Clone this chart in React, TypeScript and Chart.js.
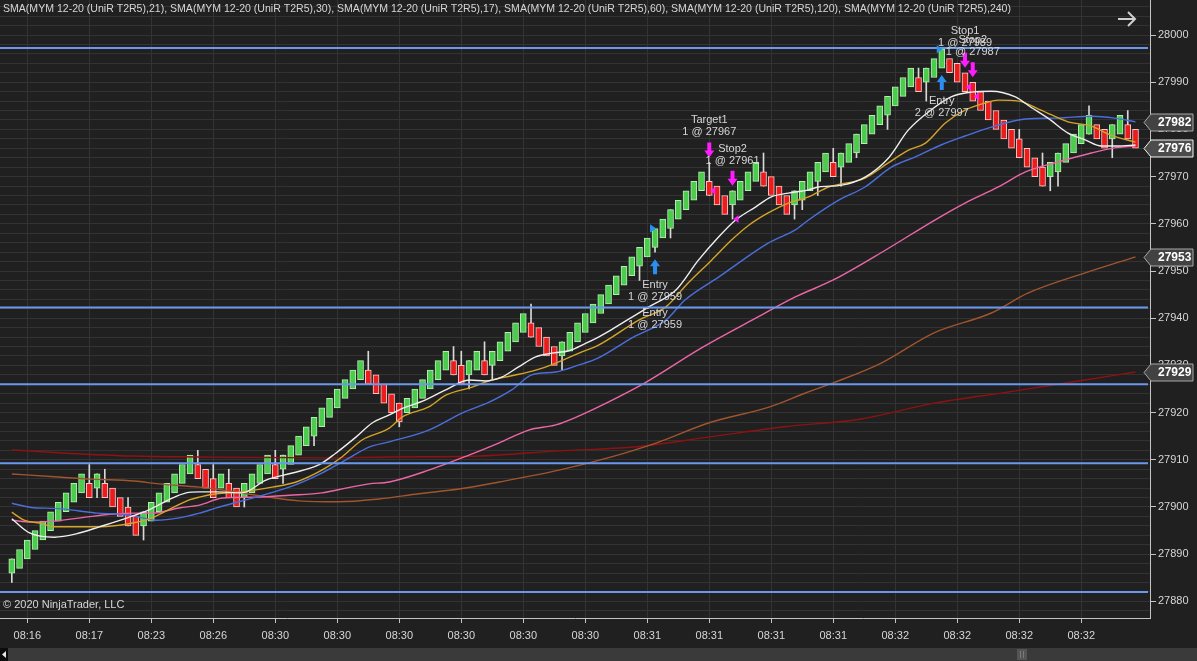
import React, { useEffect, useRef } from "react";
import { Chart, registerables } from "chart.js";

Chart.register(...registerables);

const FONT = '"Liberation Sans", Arial, sans-serif';
const BG = "#202020";
const GRID = "#333333";
const AXIS = "#c4c4c4";
const TEXT = "#d6d6d6";

// ---------- bar data (UniRenko T2R5) ----------
const closes = [
  27889, 27891, 27893, 27895, 27897, 27899, 27901, 27903, 27905, 27907,
  27902, 27907, 27902, 27900, 27898, 27896, 27894, 27899, 27901, 27903,
  27905, 27907, 27909, 27911, 27906, 27904, 27902, 27907, 27902, 27900,
  27905, 27907, 27909, 27911, 27906, 27911, 27913, 27915, 27917, 27919,
  27921, 27923, 27925, 27927, 27929, 27931, 27926, 27924, 27922, 27920,
  27918, 27923, 27925, 27927, 27929, 27931, 27933, 27928, 27926, 27931,
  27933, 27928, 27933, 27935, 27937, 27939, 27941, 27936, 27934, 27932,
  27930, 27935, 27937, 27939, 27941, 27943, 27945, 27947, 27949, 27951,
  27953, 27955, 27957, 27959, 27961, 27963, 27965, 27967, 27969, 27971,
  27966, 27964, 27962, 27967, 27969, 27971, 27973, 27968, 27966, 27964,
  27962, 27967, 27969, 27971, 27973, 27975, 27970, 27975, 27977, 27979,
  27981, 27983, 27985, 27987, 27989, 27991, 27993, 27988, 27993, 27995,
  27997, 27992, 27990, 27988, 27986, 27984, 27982, 27980, 27978, 27976,
  27974, 27972, 27970, 27968, 27973, 27975, 27977, 27979, 27981, 27983,
  27978, 27976, 27981, 27983, 27978, 27976,
];

const opens = [
  27886, 27887, 27889, 27891, 27893, 27895, 27897, 27899, 27901, 27903,
  27905, 27904, 27905, 27904, 27902, 27900, 27898, 27896, 27897, 27899,
  27901, 27903, 27905, 27907, 27909, 27908, 27906, 27904, 27905, 27904,
  27902, 27903, 27905, 27907, 27909, 27908, 27909, 27911, 27913, 27915,
  27917, 27919, 27921, 27923, 27925, 27927, 27929, 27928, 27926, 27924,
  27922, 27920, 27921, 27923, 27925, 27927, 27929, 27931, 27930, 27928,
  27929, 27931, 27930, 27931, 27933, 27935, 27937, 27939, 27938, 27936,
  27934, 27932, 27933, 27935, 27937, 27939, 27941, 27943, 27945, 27947,
  27949, 27951, 27953, 27955, 27957, 27959, 27961, 27963, 27965, 27967,
  27969, 27968, 27966, 27964, 27965, 27967, 27969, 27971, 27970, 27968,
  27966, 27964, 27965, 27967, 27969, 27971, 27973, 27972, 27973, 27975,
  27977, 27979, 27981, 27983, 27985, 27987, 27989, 27991, 27990, 27991,
  27993, 27995, 27994, 27992, 27990, 27988, 27986, 27984, 27982, 27980,
  27978, 27976, 27974, 27972, 27970, 27971, 27973, 27975, 27977, 27979,
  27981, 27980, 27978, 27979, 27981, 27980,
];

// [bar index, price] for bars whose wick goes beyond the body
const wickHighs: [number, number][] = [
  [10, 27909], [12, 27908], [15, 27902], [24, 27912], [26, 27909], [28, 27908],
  [34, 27912], [46, 27933], [57, 27934], [58, 27933], [61, 27935], [67, 27943],
  [90, 27973], [97, 27975], [106, 27976], [117, 27993], [130, 27980], [133, 27975],
  [139, 27985], [144, 27984],
];
const wickLows: [number, number][] = [
  [0, 27884], [11, 27902], [17, 27893], [30, 27900], [35, 27905], [39, 27913],
  [50, 27917], [59, 27925], [62, 27927], [71, 27929], [81, 27948], [83, 27954],
  [85, 27957], [93, 27961], [101, 27961], [102, 27963], [104, 27966], [107, 27968],
  [109, 27974], [113, 27980], [118, 27986], [134, 27967], [135, 27968], [142, 27974],
];

// ---------- time axis ----------
const tickBars = [2, 10, 18, 26, 34, 42, 50, 58, 66, 74, 82, 90, 98, 106, 114, 122, 130, 138];
const timeLabels = [
  "08:16", "08:17", "08:23", "08:26", "08:30", "08:30", "08:30", "08:30", "08:30",
  "08:30", "08:31", "08:31", "08:31", "08:31", "08:32", "08:32", "08:32", "08:32",
];

// ---------- moving averages, read as [bar, value] ----------
const smaPeriods = [21, 30, 17, 60, 120, 240];

const sma17: [number, number][] = [
  [0, 27897.5], [2.3, 27894.5], [5.5, 27893.6], [8.3, 27894.3], [11.3, 27895.8], [14.9, 27897.7],
  [17.7, 27899.4], [20.7, 27901.9], [22.5, 27903.0], [24.2, 27903.2], [26.4, 27903.2], [29.7, 27903.0],
  [32.8, 27905.7], [36.2, 27907.2], [39.6, 27908.9], [41.8, 27911.4], [44.4, 27914.8], [46.5, 27917.8],
  [48.7, 27919.5], [50, 27920.6], [53.4, 27922.7], [56, 27924.8], [59, 27926.9], [61.2, 27926.7],
  [63.2, 27927.5], [65.4, 27929.7], [67.6, 27931.8], [69.7, 27932.6], [71.9, 27933.1], [74.1, 27934.7],
  [75.7, 27936.0], [76.9, 27937.1], [79.6, 27939.8], [82.2, 27942.4], [85.7, 27946.0], [88.6, 27952.3],
  [91.2, 27957.2], [93.4, 27960.8], [96, 27963.6], [98, 27965.7], [100.2, 27966.5], [102.8, 27967.2],
  [104.1, 27967.8], [107.1, 27968.2], [110.1, 27969.9], [113.1, 27973.9], [115.7, 27979.9], [118.6, 27984.1],
  [121.2, 27986.9], [123.8, 27987.9], [126.4, 27988.1], [129.5, 27986.9], [131.5, 27984.7], [133.7, 27982.4],
  [136.3, 27979.2], [138.5, 27977.8], [140.6, 27976.5], [142.7, 27976.5], [145, 27976.7],
];

const sma21: [number, number][] = [
  [0, 27898.9], [1.6, 27897.2], [3.6, 27896.6], [5.5, 27895.8], [7, 27895.8], [11.3, 27895.8],
  [15.6, 27896.6], [18.1, 27897.7], [20.7, 27899.8], [22.9, 27901.5], [24.2, 27902.1], [26.4, 27902.8],
  [29.7, 27903.2], [33.6, 27904.2], [36.7, 27905.3], [40, 27907.8], [42.6, 27910.6], [45.2, 27914.2],
  [48.7, 27916.7], [50.4, 27919.1], [53.8, 27921.2], [56, 27923.7], [59.4, 27925.4], [61.9, 27926.9],
  [64.5, 27927.8], [67.6, 27929.0], [70.2, 27930.5], [73.2, 27932.6], [75.7, 27934.3], [80.9, 27939.6],
  [84.4, 27942.4], [87.3, 27947.5], [90.3, 27952.3], [92.9, 27956.6], [95.1, 27959.7], [97.6, 27962.3],
  [100.2, 27964.4], [102.8, 27965.7], [105.4, 27967.8], [110.1, 27969.7], [113.1, 27972.9], [115.7, 27975.6],
  [117.9, 27977.1], [120.5, 27981.4], [123, 27984.1], [125.6, 27985.6], [127.3, 27986.2], [129.9, 27986.0],
  [132.8, 27984.1], [136.3, 27981.6], [139.3, 27980.7], [141.8, 27978.8], [145, 27977.3],
];

const sma30: [number, number][] = [
  [0, 27900.8], [2.5, 27899.9], [5.5, 27899.7], [8.5, 27899.2], [11, 27898.7], [13.6, 27898.5],
  [15.8, 27898.1], [18.6, 27897.2], [21.6, 27897.7], [24.2, 27898.7], [26.4, 27899.8], [31.5, 27902.1],
  [35.8, 27904.2], [40, 27907.2], [43.1, 27910.0], [46.1, 27912.7], [48.7, 27913.8], [53.8, 27916.3],
  [58.1, 27919.9], [61.6, 27922.2], [64.5, 27924.8], [67.1, 27928.0], [70.2, 27928.6], [73.2, 27930.1],
  [75.7, 27931.6], [80.2, 27936.0], [84.4, 27939.6], [86.9, 27943.9], [91.2, 27948.7], [97.6, 27955.9],
  [101.1, 27958.7], [102.8, 27960.8], [106.7, 27965.0], [110.1, 27967.8], [113.5, 27972.0], [116.6, 27974.2],
  [119.9, 27976.7], [123, 27978.6], [126.4, 27980.5], [130.8, 27982.2], [135, 27982.4], [139.3, 27982.8],
  [142.3, 27982.4], [145, 27981.6],
];

const sma60: [number, number][] = [
  [0, 27897.2], [2.5, 27896.8], [5.5, 27897.0], [9.8, 27897.9], [13.2, 27898.5], [15.8, 27898.7],
  [18.1, 27898.7], [21.6, 27899.8], [24.2, 27900.4], [27.2, 27901.9], [31.5, 27902.1], [35.8, 27902.5],
  [40, 27903.0], [43.1, 27904.0], [46.1, 27904.9], [48.7, 27905.3], [53.8, 27907.8], [59, 27911.0],
  [62.9, 27913.6], [66.7, 27916.3], [70.2, 27917.4], [73.2, 27919.3], [75.7, 27921.2], [81.7, 27926.3],
  [89, 27933.7], [96, 27940.0], [101.1, 27944.5], [106, 27948.1], [112.7, 27954.4], [119.1, 27960.8],
  [123, 27964.4], [127.3, 27967.8], [130.8, 27971.0], [135, 27973.1], [139.3, 27975.0], [142.3, 27976.1],
  [145, 27976.5],
];

const sma120: [number, number][] = [
  [0, 27907.0], [5.5, 27906.4], [10.3, 27905.9], [15.8, 27905.5], [19, 27904.9], [24.2, 27904.2],
  [27.2, 27903.6], [31.5, 27902.5], [37.1, 27901.3], [42.2, 27901.1], [47.4, 27901.7], [52.5, 27902.8],
  [57.7, 27903.8], [62.9, 27905.3], [70.6, 27907.8], [76.9, 27910.4], [83.2, 27913.6], [89.9, 27917.8],
  [97.8, 27921.2], [102.5, 27924.2], [106, 27926.3], [112.2, 27930.5], [119, 27936.9], [126.4, 27941.1],
  [131.1, 27945.3], [138.5, 27949.6], [145, 27953.0],
];

const sma240: [number, number][] = [
  [0, 27912.1], [7.1, 27911.4], [15.6, 27910.8], [24.2, 27910.6], [40, 27910.4], [48.7, 27910.6],
  [60.3, 27910.8], [70.6, 27911.9], [80.2, 27912.7], [89.9, 27914.8], [99.7, 27917.0], [109.4, 27918.6],
  [119, 27922.0], [128.7, 27924.4], [138.5, 27926.9], [145, 27928.6],
];

// ---------- horizontal price levels ----------
const levels = [27997.25, 27942.25, 27926, 27909.25, 27882];

// ---------- executions ----------
const execBars = [83, 83, 90, 93, 120, 123, 124];
const execPrices = [27959, 27959, 27967, 27961, 27997, 27989, 27987];
const execQty = [1, 1, 1, 1, 2, 1, 1];
const execNames = ["Entry", "Entry", "Target1", "Stop2", "Entry", "Stop1", "Stop2"];
const execSides = ["buy", "buy", "sell", "sell", "buy", "sell", "sell"];

// ---------- scale window ----------
const Y_MIN = 27876.48;
const Y_MAX = 28007.42;
const X_MIN = -1.523;
const X_MAX = 146.87;
const yGridValues: number[] = [];
for (let v = 27878; v <= 28006; v += 2) yGridValues.push(v);

const highOf = (i: number) => {
  const w = wickHighs.find((p) => p[0] === i);
  return w ? w[1] : Math.max(opens[i], closes[i]);
};
const lowOf = (i: number) => {
  const w = wickLows.find((p) => p[0] === i);
  return w ? w[1] : Math.min(opens[i], closes[i]);
};

const lineDefs = [
  { data: sma17, color: "#eeeeee" },
  { data: sma21, color: "#d4a42a" },
  { data: sma30, color: "#4a6fdc" },
  { data: sma60, color: "#ec66a8" },
  { data: sma120, color: "#a0552e" },
  { data: sma240, color: "#8e1212" },
];

function upArrow(ctx: CanvasRenderingContext2D, x: number, tip: number) {
  ctx.beginPath();
  ctx.moveTo(x, tip);
  ctx.lineTo(x + 5, tip + 7);
  ctx.lineTo(x + 2, tip + 7);
  ctx.lineTo(x + 2, tip + 15);
  ctx.lineTo(x - 2, tip + 15);
  ctx.lineTo(x - 2, tip + 7);
  ctx.lineTo(x - 5, tip + 7);
  ctx.closePath();
  ctx.fill();
}
function downArrow(ctx: CanvasRenderingContext2D, x: number, tip: number) {
  ctx.beginPath();
  ctx.moveTo(x, tip);
  ctx.lineTo(x + 5, tip - 7);
  ctx.lineTo(x + 2, tip - 7);
  ctx.lineTo(x + 2, tip - 15);
  ctx.lineTo(x - 2, tip - 15);
  ctx.lineTo(x - 2, tip - 7);
  ctx.lineTo(x - 5, tip - 7);
  ctx.closePath();
  ctx.fill();
}

const bgPlugin = {
  id: "ntBg",
  beforeDraw(chart: any) {
    const { ctx, width, height } = chart;
    ctx.save();
    ctx.fillStyle = BG;
    ctx.fillRect(0, 0, width, height);
    ctx.restore();
  },
};

const overlayPlugin = {
  id: "ntOverlay",
  afterDatasetsDraw(chart: any) {
    const { ctx, chartArea } = chart;
    const xs = chart.scales.x;
    const ys = chart.scales.y;
    ctx.save();
    ctx.beginPath();
    ctx.rect(chartArea.left, chartArea.top, chartArea.right - chartArea.left, chartArea.bottom - chartArea.top);
    ctx.clip();

    // horizontal levels
    ctx.strokeStyle = "#6a98ee";
    ctx.lineWidth = 2;
    levels.forEach((lv) => {
      const y = ys.getPixelForValue(lv);
      ctx.beginPath();
      ctx.moveTo(chartArea.left, y);
      ctx.lineTo(chartArea.right - 2, y);
      ctx.stroke();
    });

    // executions
    ctx.font = `11px ${FONT}`;
    ctx.textAlign = "center";
    ctx.textBaseline = "middle";
    const stack: Record<number, number> = {};
    execBars.forEach((b, k) => {
      const bx = xs.getPixelForValue(b);
      const py = ys.getPixelForValue(execPrices[k]);
      const n = stack[b] ?? 0;
      stack[b] = n + 1;
      const buy = execSides[k] === "buy";
      const col = buy ? "#2a8ff0" : "#ff1cff";
      ctx.fillStyle = col;
      // small fill marker
      ctx.beginPath();
      if (buy) {
        ctx.moveTo(bx + 1, py);
        ctx.lineTo(bx - 5, py - 4);
        ctx.lineTo(bx - 5, py + 4);
      } else {
        ctx.moveTo(bx + 1, py);
        ctx.lineTo(bx + 6, py - 4);
        ctx.lineTo(bx + 6, py + 4);
      }
      ctx.closePath();
      ctx.fill();
      const line2 = `${execQty[k]} @ ${execPrices[k]}`;
      if (buy) {
        const tip = ys.getPixelForValue(lowOf(b)) + 7;
        if (n === 0) upArrow(ctx, bx, tip);
        const t = tip + 15 + 11 + n * 28;
        ctx.fillStyle = TEXT;
        ctx.fillText(execNames[k], bx, t);
        ctx.fillText(line2, bx, t + 12);
      } else {
        const tip = ys.getPixelForValue(highOf(b)) - 5;
        if (n === 0) downArrow(ctx, bx, tip);
        const top = tip - 15 - n * 28;
        ctx.fillStyle = TEXT;
        ctx.fillText(execNames[k], bx, top - 22);
        ctx.fillText(line2, bx, top - 10);
      }
    });
    ctx.restore();

    // indicator caption and copyright
    ctx.save();
    ctx.fillStyle = TEXT;
    ctx.font = `11px ${FONT}`;
    ctx.textAlign = "left";
    ctx.textBaseline = "middle";
    const caption = smaPeriods.map((p) => `SMA(MYM 12-20 (UniR T2R5),${p})`).join(", ");
    ctx.fillText(caption, chartArea.left + 3, chartArea.top + 9, 1008);
    ctx.fillText("\u00A9 2020 NinjaTrader, LLC", chartArea.left + 3, chartArea.bottom - 13);
    ctx.restore();
  },
  afterDraw(chart: any) {
    const { ctx, chartArea, width, height } = chart;
    const ys = chart.scales.y;
    ctx.save();
    // price boxes on the right axis
    const boxes = [
      { v: sma30[sma30.length - 1][1], bright: false },
      { v: closes[closes.length - 1], bright: true },
      { v: sma120[sma120.length - 1][1], bright: false },
      { v: sma240[sma240.length - 1][1], bright: false },
    ];
    const r = chartArea.right;
    boxes.forEach((bx) => {
      const y = Math.round(ys.getPixelForValue(bx.v)) + 0.5;
      const h = 17;
      ctx.beginPath();
      ctx.moveTo(r - 6, y);
      ctx.lineTo(r + 1, y - h / 2);
      ctx.lineTo(r + 43, y - h / 2);
      ctx.lineTo(r + 43, y + h / 2);
      ctx.lineTo(r + 1, y + h / 2);
      ctx.closePath();
      ctx.fillStyle = bx.bright ? "#4c4c4c" : "#424242";
      ctx.fill();
      ctx.strokeStyle = bx.bright ? "#f4f4f4" : "#a8a8a8";
      ctx.lineWidth = 1;
      ctx.stroke();
      ctx.fillStyle = "#ffffff";
      ctx.font = `bold 12px ${FONT}`;
      ctx.textAlign = "left";
      ctx.textBaseline = "middle";
      ctx.fillText(String(Math.round(bx.v)), r + 8, y + 0.5);
    });

    // top-right arrow
    ctx.strokeStyle = "#d0d0d0";
    ctx.lineWidth = 2;
    ctx.beginPath();
    ctx.moveTo(r - 32, 19);
    ctx.lineTo(r - 15, 19);
    ctx.moveTo(r - 22, 12);
    ctx.lineTo(r - 15, 19);
    ctx.lineTo(r - 22, 26);
    ctx.stroke();

    // horizontal scrollbar
    const sy = height - 13;
    ctx.fillStyle = "#3a3a3a";
    ctx.fillRect(0, sy, width, 13);
    ctx.fillStyle = "#0c0c0c";
    ctx.fillRect(0, sy, 8, 13);
    ctx.fillStyle = "#e8e8e8";
    ctx.beginPath();
    ctx.moveTo(2, sy + 6.5);
    ctx.lineTo(6, sy + 3);
    ctx.lineTo(6, sy + 10);
    ctx.closePath();
    ctx.fill();
    ctx.fillStyle = "#555555";
    ctx.fillRect(1017, sy + 1, 10, 11);
    ctx.fillStyle = "#7a7a7a";
    ctx.fillRect(1020, sy + 3, 1, 7);
    ctx.fillRect(1023, sy + 3, 1, 7);
    ctx.restore();
  },
};

export default function App() {
  const ref = useRef<HTMLCanvasElement>(null);

  useEffect(() => {
    const canvas = ref.current;
    if (!canvas) return;
    Chart.defaults.font.family = FONT;

    const bodyData = closes.map((c, i) => ({ x: i, y: [opens[i], c] }));
    const bodyFill = closes.map((c, i) => (c >= opens[i] ? "#4ccc4c" : "#ea1c1c"));
    const bodyBorder = closes.map((c, i) => (c >= opens[i] ? "#b4eeb4" : "#ffc8c8"));
    const wickIdx = Array.from(new Set([...wickHighs.map((w) => w[0]), ...wickLows.map((w) => w[0])])).sort(
      (a, b) => a - b
    );
    const wickData = wickIdx.map((i) => ({ x: i, y: [lowOf(i), highOf(i)] }));

    const lineSets = lineDefs.map((d, k) => ({
      type: "line" as const,
      label: `sma${k}`,
      data: d.data.map(([x, y]) => ({ x, y })),
      borderColor: d.color,
      borderWidth: 1.4,
      pointRadius: 0,
      fill: false,
      cubicInterpolationMode: "monotone" as const,
      order: 0,
    }));

    const chart = new Chart(canvas, {
      type: "bar",
      data: {
        datasets: [
          {
            type: "bar",
            label: "wicks",
            data: wickData as any,
            backgroundColor: "#d8d8d8",
            borderWidth: 0,
            barThickness: 1,
            grouped: false,
            order: 3,
          },
          {
            type: "bar",
            label: "bars",
            data: bodyData as any,
            backgroundColor: bodyFill,
            borderColor: bodyBorder,
            borderWidth: 1,
            borderSkipped: false,
            barThickness: 6,
            grouped: false,
            order: 2,
          },
          ...(lineSets as any),
        ],
      },
      options: {
        animation: false,
        responsive: false,
        maintainAspectRatio: false,
        events: [],
        layout: { padding: 0 },
        plugins: {
          legend: { display: false },
          tooltip: { enabled: false },
          title: { display: false },
        },
        scales: {
          x: {
            type: "linear",
            position: "bottom",
            min: X_MIN,
            max: X_MAX,
            offset: false,
            afterBuildTicks: (s: any) => {
              s.ticks = tickBars.map((v) => ({ value: v }));
            },
            afterFit: (s: any) => {
              s.height = 43;
              s.paddingLeft = 0;
              s.paddingRight = 0;
            },
            ticks: {
              autoSkip: false,
              maxRotation: 0,
              minRotation: 0,
              padding: 6,
              color: TEXT,
              font: { size: 11, family: FONT },
              callback: (v: any) => {
                const k = tickBars.indexOf(Number(v));
                return k >= 0 ? timeLabels[k] : "";
              },
            },
            grid: { color: GRID, tickColor: AXIS, tickLength: 5, offset: false },
            border: { color: AXIS, width: 1 },
          },
          y: {
            type: "linear",
            position: "right",
            min: Y_MIN,
            max: Y_MAX,
            afterBuildTicks: (s: any) => {
              s.ticks = yGridValues.map((v) => ({ value: v }));
            },
            afterFit: (s: any) => {
              s.width = 47;
              s.paddingTop = 0;
              s.paddingBottom = 0;
            },
            ticks: {
              autoSkip: false,
              padding: 2,
              color: TEXT,
              font: { size: 11, family: FONT },
              callback: (v: any) => (Math.abs(Number(v) % 10) < 1e-6 ? String(v) : ""),
            },
            grid: {
              color: GRID,
              tickLength: 6,
              tickColor: (c: any) =>
                c.tick && Math.abs(c.tick.value % 10) < 1e-6 ? AXIS : "rgba(0,0,0,0)",
            },
            border: { color: AXIS, width: 1 },
          },
        },
      } as any,
      plugins: [bgPlugin, overlayPlugin],
    });

    return () => chart.destroy();
  }, []);

  return (
    <div
      style={{
        position: "fixed",
        left: 0,
        top: 0,
        width: 1197,
        height: 661,
        background: BG,
        overflow: "hidden",
      }}
    >
      <canvas ref={ref} width={1197} height={661} style={{ display: "block", width: 1197, height: 661 }} />
    </div>
  );
}
